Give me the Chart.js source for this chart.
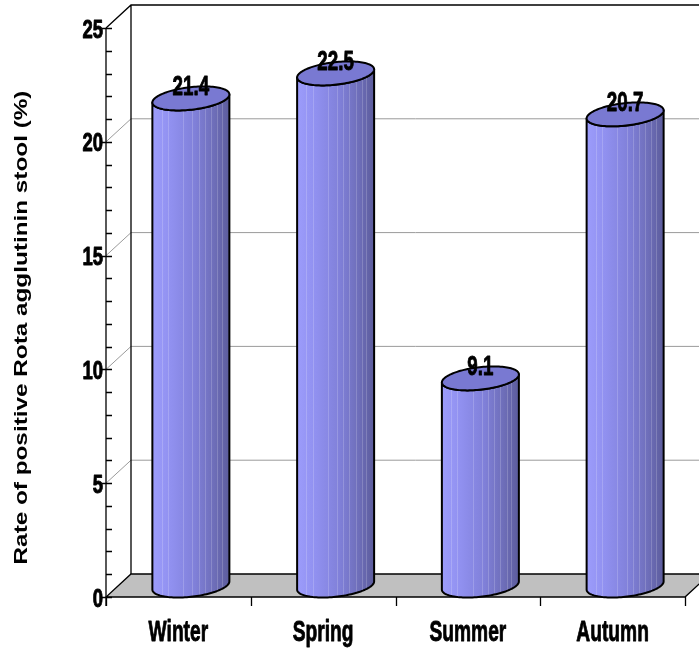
<!DOCTYPE html>
<html>
<head>
<meta charset="utf-8">
<script src="https://cdn.jsdelivr.net/npm/chart.js@4/dist/chart.umd.min.js"></script>
<style>
  html, body { margin: 0; padding: 0; background: #ffffff; }
  #wrap { width: 699px; height: 650px; }
</style>
</head>
<body>
<div id="wrap"><canvas id="chart" width="699" height="650"></canvas></div>
<script>
// Seasonal rate of positive Rota agglutinin stool samples
const categories = ['Winter', 'Spring', 'Summer', 'Autumn'];
const rates = [21.4, 22.5, 9.1, 20.7];
const yTickValues = [0, 5, 10, 15, 20, 25];
const yTitle = 'Rate of positive Rota agglutinin stool (%)';

// oblique depth of the 3-D box (back wall offset)
const DEPTH_X = 25;
const DEPTH_Y = 23;
const FONT = '"Liberation Sans", Arial, sans-serif';

// heavy, horizontally condensed lettering
function condensedText(ctx, text, x, y, size, sx, align) {
  ctx.save();
  ctx.translate(x, y);
  ctx.scale(sx, 1);
  ctx.font = 'bold ' + size + 'px ' + FONT;
  ctx.textAlign = align;
  ctx.textBaseline = 'alphabetic';
  ctx.fillStyle = '#000000';
  ctx.strokeStyle = '#000000';
  ctx.lineWidth = 0.9;
  ctx.lineJoin = 'round';
  ctx.fillText(text, 0, 0);
  ctx.strokeText(text, 0, 0);
  ctx.restore();
}

const box3d = {
  id: 'box3d',
  beforeDatasetsDraw(chart) {
    const ctx = chart.ctx;
    const xs = chart.scales.x, ys = chart.scales.y;
    const L = chart.chartArea.left, R = chart.chartArea.right;
    const y0 = ys.getPixelForValue(0);
    const yTop = ys.getPixelForValue(25);
    ctx.save();

    // floor
    ctx.beginPath();
    ctx.moveTo(L, y0);
    ctx.lineTo(R, y0);
    ctx.lineTo(R + DEPTH_X, y0 - DEPTH_Y);
    ctx.lineTo(L + DEPTH_X, y0 - DEPTH_Y);
    ctx.closePath();
    ctx.fillStyle = '#c0c0c0';
    ctx.fill();
    ctx.lineWidth = 1.3;
    ctx.strokeStyle = '#000000';
    ctx.stroke();

    // gridlines on side and back walls
    ctx.lineWidth = 1;
    ctx.strokeStyle = '#9a9a9a';
    for (const v of yTickValues) {
      if (v === 0 || v === 25) continue;
      const py = ys.getPixelForValue(v);
      ctx.beginPath();
      ctx.moveTo(L, py);
      ctx.lineTo(L + DEPTH_X, py - DEPTH_Y);
      ctx.lineTo(R + DEPTH_X, py - DEPTH_Y);
      ctx.stroke();
    }

    // wall edges
    ctx.strokeStyle = '#000000';
    ctx.lineWidth = 1.3;
    ctx.beginPath();
    ctx.moveTo(L, yTop);
    ctx.lineTo(L + DEPTH_X, yTop - DEPTH_Y);
    ctx.lineTo(R + DEPTH_X + 5, yTop - DEPTH_Y);
    ctx.moveTo(L + DEPTH_X, yTop - DEPTH_Y);
    ctx.lineTo(L + DEPTH_X, y0 - DEPTH_Y);
    ctx.stroke();

    // value axis line and ticks
    ctx.beginPath();
    ctx.moveTo(L, yTop);
    ctx.lineTo(L, y0 + 9);
    for (let v = 0; v <= 25; v++) {
      const py = Math.round(ys.getPixelForValue(v)) + 0.5;
      const major = v % 5 === 0;
      ctx.moveTo(major ? L - 4 : L, py);
      ctx.lineTo(L + 6, py);
    }
    ctx.stroke();

    // category ticks
    ctx.beginPath();
    const step = (R - L) / categories.length;
    for (let i = 0; i <= categories.length; i++) {
      const px = Math.round(L + i * step) + 0.5;
      ctx.moveTo(px, y0);
      ctx.lineTo(px, y0 + 9);
    }
    ctx.stroke();

    // value axis tick labels
    for (const v of yTickValues) {
      condensedText(ctx, String(v), L - 3, ys.getPixelForValue(v) + 9.5, 25, 0.74, 'right');
    }

    // category labels
    categories.forEach((c, i) => {
      condensedText(ctx, c, xs.getPixelForValue(i), 641, 30, 0.64, 'center');
    });

    // axis title (wide bold lettering)
    ctx.save();
    ctx.translate(27, 327.5);
    ctx.rotate(-Math.PI / 2);
    ctx.scale(1.35, 1);
    ctx.font = 'bold 18px ' + FONT;
    ctx.textAlign = 'center';
    ctx.fillStyle = '#000000';
    ctx.fillText(yTitle, 0, 0);
    ctx.restore();

    ctx.restore();
  },

  afterDatasetsDraw(chart) {
    const ctx = chart.ctx;
    const xs = chart.scales.x, ys = chart.scales.y;
    const meta = chart.getDatasetMeta(0);
    const catW = (chart.chartArea.right - chart.chartArea.left) / categories.length;
    const Rr = catW * 0.266;
    const b = 13, c = 12;
    const a = Math.sqrt(Rr * Rr - b * b);
    const t0 = Math.atan2(b, a);
    const pt = (cx, cy, t) => [cx + a * Math.cos(t) + b * Math.sin(t), cy - c * Math.sin(t)];
    const N = 60;

    function sidePath(cx, topY, baseY) {
      ctx.beginPath();
      let p = pt(cx, topY, t0 + Math.PI);
      ctx.moveTo(p[0], p[1]);
      for (let k = 0; k <= N; k++) {
        p = pt(cx, baseY, t0 + Math.PI + Math.PI * k / N);
        ctx.lineTo(p[0], p[1]);
      }
      for (let k = 0; k <= N; k++) {
        p = pt(cx, topY, t0 + 2 * Math.PI - Math.PI * k / N);
        ctx.lineTo(p[0], p[1]);
      }
      ctx.closePath();
    }

    function capPath(cx, topY) {
      ctx.beginPath();
      for (let k = 0; k <= 2 * N; k++) {
        const p = pt(cx, topY, Math.PI * k / N);
        if (k === 0) ctx.moveTo(p[0], p[1]); else ctx.lineTo(p[0], p[1]);
      }
      ctx.closePath();
    }

    ctx.save();
    ctx.lineJoin = 'round';
    meta.data.forEach((bar, i) => {
      const v = rates[i];
      const cx = xs.getPixelForValue(i) + DEPTH_X / 2;
      const topY = ys.getPixelForValue(v) - DEPTH_Y / 2;
      const baseY = ys.getPixelForValue(0) - DEPTH_Y / 2;

      // side of the cylinder
      const g = ctx.createLinearGradient(cx - Rr, 0, cx + Rr, 0);
      g.addColorStop(0, '#9c9cfb');
      g.addColorStop(0.25, '#9090ef');
      g.addColorStop(0.55, '#8080d9');
      g.addColorStop(0.8, '#6e6eb9');
      g.addColorStop(1, '#5c5c9c');
      sidePath(cx, topY, baseY);
      ctx.fillStyle = g;
      ctx.fill();

      // faint vertical sheen stripes
      ctx.save();
      ctx.clip();
      ctx.strokeStyle = 'rgba(255,255,255,0.18)';
      ctx.lineWidth = 1;
      [0.12, 0.2, 0.4, 0.52, 0.6, 0.68, 0.76, 0.84, 0.9].forEach(f => {
        const sx = Math.round(cx - Rr + 2 * Rr * f) + 0.5;
        ctx.beginPath();
        ctx.moveTo(sx, topY - 20);
        ctx.lineTo(sx, baseY + 20);
        ctx.stroke();
      });
      ctx.restore();

      sidePath(cx, topY, baseY);
      ctx.lineWidth = 2;
      ctx.strokeStyle = '#000000';
      ctx.stroke();

      // top cap
      capPath(cx, topY);
      ctx.fillStyle = '#7979d2';
      ctx.fill();
      ctx.stroke();

      // value label
      condensedText(ctx, v.toFixed(1), cx, topY - 3, 28, 0.67, 'center');
    });
    ctx.restore();
  }
};

new Chart(document.getElementById('chart'), {
  type: 'bar',
  data: {
    labels: categories,
    datasets: [{
      label: 'Rate (%)',
      data: rates,
      backgroundColor: 'rgba(0,0,0,0)',
      borderWidth: 0
    }]
  },
  options: {
    responsive: false,
    animation: false,
    devicePixelRatio: 1,
    layout: { padding: { top: 28, right: 14, left: 0, bottom: 0 } },
    plugins: { legend: { display: false }, tooltip: { enabled: false } },
    scales: {
      x: {
        offset: true,
        grid: { display: false },
        border: { display: false },
        ticks: { display: false },
        afterFit(s) { s.height = 53; }
      },
      y: {
        min: 0,
        max: 25,
        grid: { display: false },
        border: { display: false },
        ticks: { display: false, stepSize: 5 },
        afterFit(s) { s.width = 106; }
      }
    }
  },
  plugins: [box3d]
});
</script>
</body>
</html>
